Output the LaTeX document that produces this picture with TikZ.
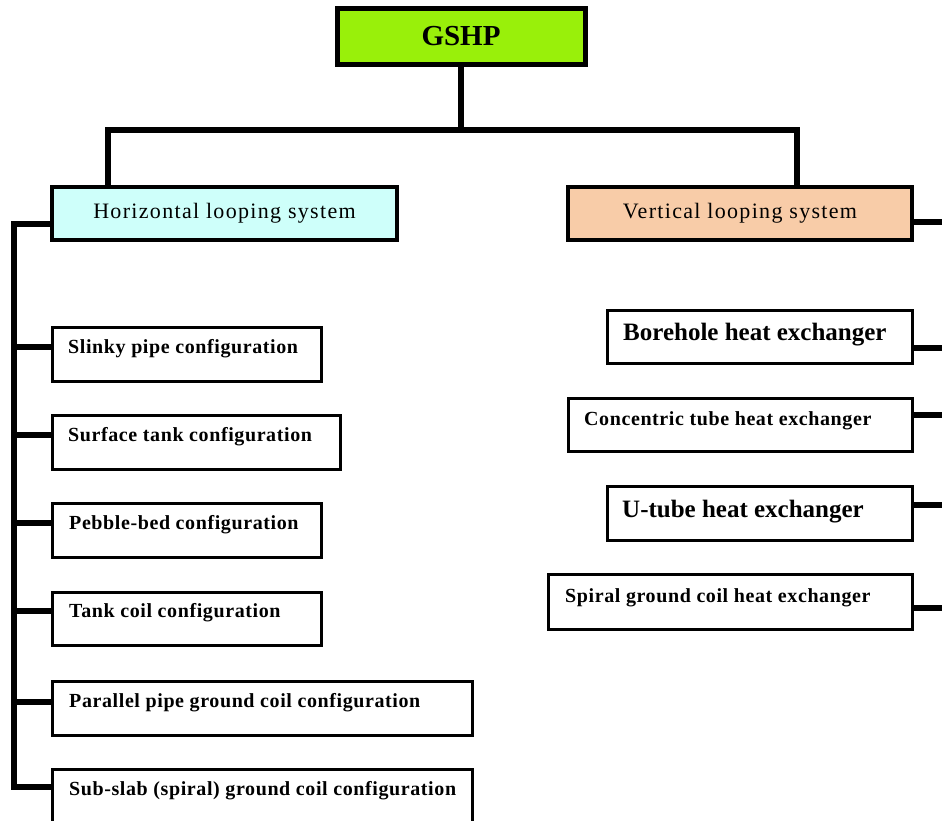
\documentclass[tikz,border=0pt]{standalone}
\usepackage{fontspec}
\setmainfont{Liberation Serif}
\newfontfamily\headfont[LetterSpace=6]{Liberation Serif}
\newfontfamily\itemfont[LetterSpace=3]{Liberation Serif}
\usetikzlibrary{calc}
\definecolor{gshpgreen}{RGB}{153,240,10}
\definecolor{hcyan}{RGB}{206,255,250}
\definecolor{vpeach}{RGB}{248,204,168}
\tikzset{
  conn/.style={line width=5.5pt, line cap=butt, line join=miter},
  boxbase/.style={draw, anchor=north west, inner sep=0pt, outer sep=0pt},
  item/.style={boxbase, line width=3pt, fill=white, minimum height=54pt},
  head/.style={boxbase, line width=3.2pt, minimum height=53pt, font=\headfont\fontsize{22}{24}\selectfont},
  itemtxt/.style={anchor=base west, inner sep=0pt, font=\itemfont\bfseries\fontsize{20}{22}\selectfont},
  bigtxt/.style={anchor=base west, inner sep=0pt, font=\bfseries\fontsize{25}{27}\selectfont},
}
\begin{document}
\begin{tikzpicture}[x=1pt,y=-1pt]
\clip (0,0) rectangle (942,820);
\fill[white] (0,0) rectangle (942,820);
% junctions
\coordinate (jl) at (108,130);
\coordinate (jr) at (797,130);
\coordinate (lt) at (14,224);
\coordinate (rt) at (962,222);
% top
\node[boxbase, line width=5pt, fill=gshpgreen, minimum width=248pt, minimum height=56pt,
      font=\bfseries\fontsize{29}{31}\selectfont] (g) at (337,8) {GSHP};
\node[head, fill=hcyan, minimum width=345pt] (hb) at (52,187) {Horizontal looping system};
\node[head, fill=vpeach, minimum width=344pt] (vb) at (568,187) {Vertical looping system};
% left items
\node[item, minimum width=269pt] (s1) at (52,327) {};
\node[item, minimum width=288pt] (s2) at (52,415) {};
\node[item, minimum width=269pt] (s3) at (52,503) {};
\node[item, minimum width=269pt, minimum height=53pt] (s4) at (52,592) {};
\node[item, minimum width=420pt] (s5) at (52,681) {};
\node[item, minimum width=420pt] (s6) at (52,769) {};
\node[itemtxt] (t1) at (68,353) {Slinky pipe configuration};
\node[itemtxt] (t2) at (68,441) {Surface tank configuration};
\node[itemtxt] (t3) at (69,529) {Pebble-bed configuration};
\node[itemtxt] (t4) at (69,617) {Tank coil configuration};
\node[itemtxt] (t5) at (69,707) {Parallel pipe ground coil configuration};
\node[itemtxt] (t6) at (69,795) {Sub-slab (spiral) ground coil configuration};
% right items
\node[item, minimum width=305pt, minimum height=53pt] (r1) at (607,310) {};
\node[item, minimum width=344pt, minimum height=53pt] (r2) at (568,398) {};
\node[item, minimum width=305pt] (r3) at (607,486) {};
\node[item, minimum width=364pt, minimum height=55pt] (r4) at (548,574) {};
\node[bigtxt] (u1) at (623,340) {Borehole heat exchanger};
\node[itemtxt] (u2) at (584,425) {Concentric tube heat exchanger};
\node[bigtxt] (u3) at (622,517) {U-tube heat exchanger};
\node[itemtxt] (u4) at (565,602) {Spiral ground coil heat exchanger};
% connectors from the root
\draw[conn] (g.south) -- (g.south |- jl);
\draw[conn] (jl |- hb.north) -- (jl) -- (jr) -- (jr |- vb.north);
% left trunk
\coordinate (c1) at ([yshift=-20pt]s1.north west);
\coordinate (c2) at ([yshift=-20pt]s2.north west);
\coordinate (c3) at ([yshift=-20pt]s3.north west);
\coordinate (c4) at ([yshift=-19pt]s4.north west);
\coordinate (c5) at ([yshift=-21pt]s5.north west);
\coordinate (c6) at ([yshift=-18pt]s6.north west);
\draw[conn] (lt -| hb.west) -- (lt) |- (c6);
\foreach \c in {c1,c2,c3,c4,c5} \draw[conn] (\c) -- (\c -| lt);
% right trunk
\coordinate (d1) at ([yshift=-38pt]r1.north east);
\coordinate (d2) at ([yshift=-17pt]r2.north east);
\coordinate (d3) at ([yshift=-19pt]r3.north east);
\coordinate (d4) at ([yshift=-34pt]r4.north east);
\draw[conn] (rt -| vb.east) -- (rt) |- (d4);
\foreach \c in {d1,d2,d3} \draw[conn] (\c) -- (\c -| rt);
\end{tikzpicture}
\end{document}
